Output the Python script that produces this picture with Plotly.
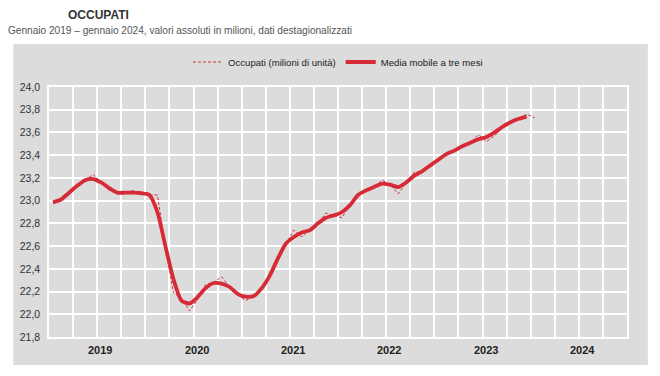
import plotly.graph_objects as go

# Monthly data, Jan 2019 - Jan 2024 (millions)
months_idx = list(range(61))
occupati = [
    22.98, 23.00, 23.07, 23.13, 23.18, 23.23, 23.16, 23.09, 23.06, 23.06, 23.09, 23.06,  # 2019
    23.05, 23.05, 22.60, 22.19, 22.14, 22.03, 22.13, 22.26, 22.28, 22.33, 22.24, 22.17,  # 2020
    22.12, 22.16, 22.22, 22.33, 22.48, 22.62, 22.74, 22.68, 22.75, 22.80, 22.89, 22.87,  # 2021
    22.85, 22.97, 23.05, 23.09, 23.12, 23.18, 23.14, 23.06, 23.16, 23.25, 23.25, 23.30,  # 2022
    23.36, 23.40, 23.44, 23.48, 23.51, 23.58, 23.52, 23.57, 23.64, 23.69, 23.72, 23.76,  # 2023
    23.73,                                                                              # 2024
]
media_mobile = [
    22.985, 23.01, 23.07, 23.13, 23.18, 23.19, 23.16, 23.11, 23.07, 23.07, 23.07, 23.065,
    23.05, 22.90, 22.60, 22.31, 22.12, 22.095, 22.15, 22.23, 22.275, 22.27, 22.24, 22.18,
    22.155, 22.16, 22.23, 22.34, 22.49, 22.62, 22.68, 22.72, 22.74, 22.80, 22.85, 22.87,
    22.90, 22.96, 23.05, 23.09, 23.12, 23.15, 23.14, 23.12, 23.16, 23.22, 23.26, 23.31,
    23.36, 23.41, 23.44, 23.48, 23.51, 23.54, 23.56, 23.60, 23.65, 23.69, 23.72, 23.74,
]
years = ["2019", "2020", "2021", "2022", "2023", "2024"]

FONT = "Liberation Sans Narrow, Arial Narrow, Liberation Sans, Arial, sans-serif"
GREY = "#dcdcdc"
RED = "#d62a36"

# page body adds an 8px offset; plot area in the page: x 44..627, y 87..337
OFF = 8
L, R, T, B = 44 - OFF, 660 - (627 - OFF), 87 - OFF, 376 - (337 - OFF)
PW, PH = 583, 250


def px(xabs):
    return (xabs - 44) / PW


def py(yabs):
    return (337 - yabs) / PH


x_occ = [i + 0.5 for i in months_idx]
x_mm = [i + 0.5 for i in range(len(media_mobile))]

fig = go.Figure()
fig.add_trace(go.Scatter(
    x=x_occ, y=occupati, mode="lines", name="Occupati (milioni di unità)",
    line=dict(color="#c8323c", width=1, dash="3px,2px"),
))
fig.add_trace(go.Scatter(
    x=x_mm, y=media_mobile, mode="lines", name="Media mobile a tre mesi",
    line=dict(color=RED, width=3.8, shape="spline", smoothing=0.6),
))

ann = []
for k, yr in enumerate(years):
    ann.append(dict(text="<b>" + yr + "</b>", x=12 * k + 6.4, y=py(342),
                    xref="x", yref="paper", showarrow=False, yanchor="top",
                    font=dict(family=FONT, size=11, color="#222")))
ann.append(dict(text="<b>OCCUPATI</b>", x=px(61), xanchor="left",
                y=py(15), yanchor="middle", xref="paper", yref="paper",
                showarrow=False, font=dict(family=FONT, size=12, color="#333")))
ann.append(dict(text="Gennaio 2019 – gennaio 2024, valori assoluti in milioni, dati destagionalizzati",
                x=px(1), xanchor="left", y=py(30), yanchor="middle",
                xref="paper", yref="paper", showarrow=False,
                font=dict(family=FONT, size=10.1, color="#555")))

fig.update_layout(
    width=660, height=376,
    margin=dict(l=L, r=R, t=T, b=B),
    paper_bgcolor="white",
    plot_bgcolor=GREY,
    separators=",.",
    font=dict(family=FONT, size=11, color="#333"),
    showlegend=True,
    legend=dict(orientation="h", x=0.5, xanchor="center", y=py(62), yanchor="middle",
                bgcolor="rgba(0,0,0,0)", font=dict(family=FONT, size=9.6, color="#222"),
                tracegroupgap=0),
    annotations=ann,
    shapes=[dict(type="rect", xref="paper", yref="paper",
                 x0=px(8), x1=px(648), y0=py(365), y1=py(44),
                 fillcolor=GREY, line=dict(width=0), layer="below")],
    xaxis=dict(range=[0, 72], tick0=0, dtick=3, showgrid=True, gridcolor="white",
               gridwidth=1.5, showticklabels=False, zeroline=False, ticks="",
               showline=True, linecolor="white", linewidth=1.5, mirror=True),
    yaxis=dict(range=[21.8, 24.0], tick0=21.8, dtick=0.2, tickformat=".1f",
               showgrid=True, gridcolor="white", gridwidth=1.5, zeroline=False,
               ticks="", ticklabelstandoff=5,
               tickfont=dict(family=FONT, size=10.5, color="#333"),
               showline=True, linecolor="white", linewidth=1.5, mirror=True),
)

fig.write_html("out.html")
